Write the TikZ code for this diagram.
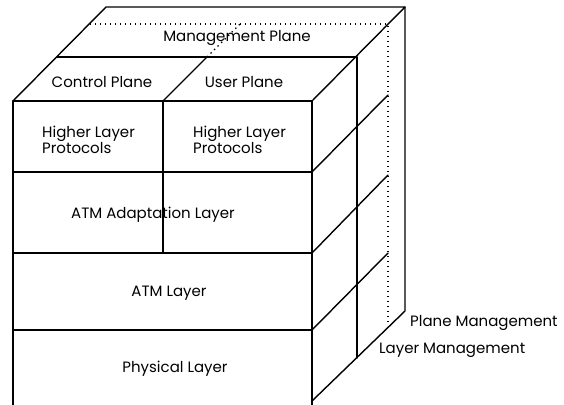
\documentclass[tikz,border=0pt]{standalone}
\usepackage{fontspec}
\setmainfont{Poppins}
\begin{document}
\begin{tikzpicture}[x=1pt,y=-1pt,
  edge/.style={line width=1.4pt,line cap=round,line join=round},
  hidden/.style={line width=1.4pt,dash pattern=on 1.4pt off 3.6pt},
  lbl/.style={inner sep=0pt,font=\fontsize{15}{14}\selectfont},
  lbll/.style={lbl,anchor=west,align=left}]
\useasboundingbox (0,0) rectangle (564,404);
\begin{scope}
\clip (0,0) rectangle (564,404);
% corner coordinates
\coordinate (ftl) at (13,101);
\coordinate (ftr) at (312,101);
\coordinate (fbl) at (13,406);
\coordinate (fbr) at (312,406);
\coordinate (fbr2) at (312,401);
\coordinate (btl) at (106,7);
\coordinate (btr) at (405,7);
\coordinate (bbr) at (405,311);
\coordinate (mtl) at (57,57);
\coordinate (mtr) at (357,57);
\coordinate (mbr) at (357,358);
\coordinate (dtl) at (90,24);
\coordinate (dtr) at (388,24);
\coordinate (dbr) at (388,322);
\coordinate (cu0) at (163,101);
\coordinate (cu1) at (163,253);
\coordinate (cu2) at (207,57);
\coordinate (cu3) at (240,24);
\coordinate (h1l) at (13,172);  \coordinate (h1r) at (312,172); \coordinate (h1b) at (388,95);
\coordinate (h2l) at (13,253);  \coordinate (h2r) at (312,253); \coordinate (h2b) at (388,175);
\coordinate (h3l) at (13,330);  \coordinate (h3r) at (312,330); \coordinate (h3b) at (388,253);
% hidden edges
\draw[hidden] (dtl) -- (dtr) -- (dbr);
\draw[hidden] (cu2) -- (cu3);
% front face
\draw[edge] (fbl) -- (ftl) -- (ftr) -- (fbr);
\draw[edge] (h1l) -- (h1r);
\draw[edge] (h2l) -- (h2r);
\draw[edge] (h3l) -- (h3r);
\draw[edge] (cu0) -- (cu1);
% top
\draw[edge] (ftl) -- (btl) -- (btr) -- (ftr);
\draw[edge] (mtl) -- (mtr);
\draw[edge] (cu0) -- (cu2);
% right side
\draw[edge] (btr) -- (bbr) -- (fbr2);
\draw[edge] (mtr) -- (mbr);
\draw[edge] (h1r) -- (h1b);
\draw[edge] (h2r) -- (h2b);
\draw[edge] (h3r) -- (h3b);
\end{scope}
% labels
\node[lbl] (mp) at (237,38) {Management Plane};
\node[lbl] (cp) at (102,82) {Control Plane};
\node[lbl] (up) at (244,82) {User Plane};
\node[lbll] (hl1) at (42,140) {Higher Layer\\Protocols};
\node[lbll] (hl2) at (193,140) {Higher Layer\\Protocols};
\node[lbl] (aal) at (153,215) {ATM Adaptation Layer};
\node[lbl] (atm) at (169,293) {ATM Layer};
\node[lbl] (phy) at (175,369) {Physical Layer};
\node[lbll] (pm) at (410,323) {Plane Management};
\node[lbll] (lm) at (379,350) {Layer Management};
\end{tikzpicture}
\end{document}
